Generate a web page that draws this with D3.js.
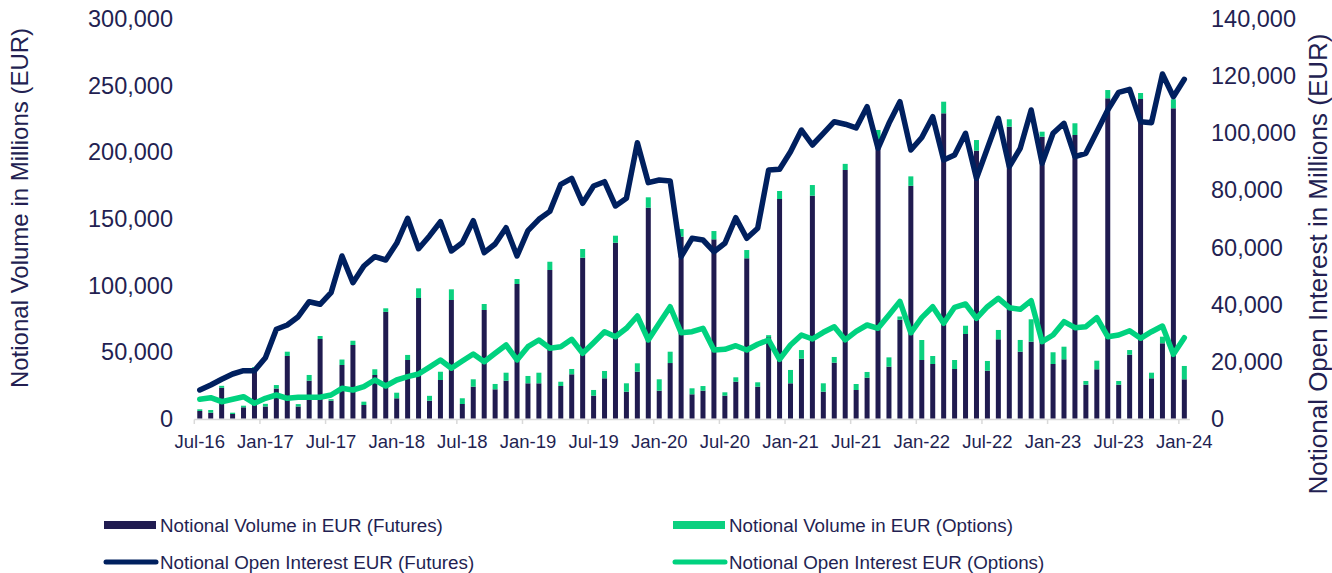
<!DOCTYPE html>
<html>
<head>
<meta charset="utf-8">
<script src="https://cdn.jsdelivr.net/npm/d3@7"></script>
<style>
  html, body { margin: 0; padding: 0; background: #ffffff; }
  svg { display: block; font-family: "Liberation Sans", Arial, sans-serif; }
</style>
</head>
<body>
<svg id="chart" width="1332" height="573"></svg>
<script>
const months = [
  "Jul-16","Aug-16","Sep-16","Oct-16","Nov-16","Dec-16",
  "Jan-17","Feb-17","Mar-17","Apr-17","May-17","Jun-17","Jul-17","Aug-17","Sep-17","Oct-17","Nov-17","Dec-17",
  "Jan-18","Feb-18","Mar-18","Apr-18","May-18","Jun-18","Jul-18","Aug-18","Sep-18","Oct-18","Nov-18","Dec-18",
  "Jan-19","Feb-19","Mar-19","Apr-19","May-19","Jun-19","Jul-19","Aug-19","Sep-19","Oct-19","Nov-19","Dec-19",
  "Jan-20","Feb-20","Mar-20","Apr-20","May-20","Jun-20","Jul-20","Aug-20","Sep-20","Oct-20","Nov-20","Dec-20",
  "Jan-21","Feb-21","Mar-21","Apr-21","May-21","Jun-21","Jul-21","Aug-21","Sep-21","Oct-21","Nov-21","Dec-21",
  "Jan-22","Feb-22","Mar-22","Apr-22","May-22","Jun-22","Jul-22","Aug-22","Sep-22","Oct-22","Nov-22","Dec-22",
  "Jan-23","Feb-23","Mar-23","Apr-23","May-23","Jun-23","Jul-23","Aug-23","Sep-23","Oct-23","Nov-23","Dec-23",
  "Jan-24"
];

const tickLabels = ["Jul-16","Jan-17","Jul-17","Jan-18","Jul-18","Jan-19","Jul-19","Jan-20","Jul-20","Jan-21","Jul-21","Jan-22","Jul-22","Jan-23","Jul-23","Jan-24"];
const leftTicks = [0, 50000, 100000, 150000, 200000, 250000, 300000];
const rightTicks = [0, 20000, 40000, 60000, 80000, 100000, 120000, 140000];

// Notional volume, futures (EUR millions)
const volFutures = [
  5625, 4350, 23000, 3375, 8400, 37500,
  9000, 22500, 46900, 9000, 28350, 59625, 13350, 40125, 55125, 10125, 32625, 80000,
  15150, 43875, 90400, 13350, 28875, 88875, 10875, 23850, 81375, 21900, 28350, 100875,
  26400, 26400, 111375, 24375, 33150, 120600, 17100, 30150, 131850, 20100, 35100, 158100,
  20850, 41600, 136350, 18150, 20850, 134400, 17100, 27600, 120150, 23850, 61000, 164625,
  26400, 44850, 167100, 20100, 41850, 186375, 21375, 30600, 209500, 38850, 74000, 174500,
  43875, 40875, 228900, 37125, 63375, 200850, 35850, 59400, 218850, 50100, 57600, 211350,
  40875, 44400, 212625, 25350, 36900, 240150, 25350, 47850, 239625, 30150, 56400, 232650,
  29400
];

// Notional volume, options (EUR millions)
const volOptions = [
  1275, 2025, 1500, 975, 1200, 1000,
  2000, 2600, 3200, 1800, 4300, 2250, 1150, 4100, 3200, 2500, 4300, 2650,
  4200, 3800, 7250, 3650, 6200, 8000, 4300, 5550, 4500, 4000, 6000, 3750,
  5500, 7950, 6200, 3200, 4000, 6500, 4300, 5500, 5250, 6300, 6300, 7800,
  8550, 8500, 5800, 4500, 3500, 6200, 2550, 3300, 6200, 3300, 1500, 6000,
  10000, 6500, 8000, 6300, 4300, 4600, 4500, 4300, 6900, 7000, 2500, 7100,
  15000, 6000, 8700, 6750, 6200, 8000, 7300, 7000, 5550, 8800, 16800, 3750,
  8800, 9450, 8800, 2800, 6450, 6200, 2800, 3500, 4500, 4200, 4950, 6750,
  10000
];

// Notional open interest, futures (EUR millions)
const oiFutures = [
  9975, 11725, 13720, 15575, 16730, 16730,
  21280, 31220, 32725, 35630, 40880, 39970, 44030, 56875, 47530, 53375, 56630, 55475,
  61320, 70070, 59400, 63900, 68880, 58625, 61530, 69230, 58030, 61075, 66780, 56875,
  65730, 69720, 72500, 81970, 84070, 75320, 81375, 82880, 74375, 77070, 96530, 82530,
  83475, 83125, 56630, 63070, 62475, 58380, 61320, 70280, 63070, 66570, 86975, 87220,
  93380, 100975, 95725, 99820, 103880, 103000, 101700, 109130, 94570, 103320, 110880, 93975,
  98350, 105630, 90475, 92225, 99820, 84070, 94570, 105070, 88130, 94570, 107975, 89320,
  99820, 103320, 91630, 92820, 100380, 107975, 114170, 115220, 103880, 103530, 120575, 112630,
  118720
];

// Notional open interest, options (EUR millions)
const oiOptions = [
  6720, 7280, 5880, 6720, 7630, 5320,
  7070, 8225, 7070, 7420, 7420, 7420, 8225, 10570, 9975, 11130, 13475, 11375,
  13475, 14630, 15575, 18000, 20475, 17570, 20125, 22575, 19880, 22820, 25725, 20500,
  25130, 27475, 24570, 25130, 27720, 22820, 26530, 30380, 28630, 31570, 35875, 27475,
  33320, 39130, 30030, 30380, 31570, 23975, 24220, 25480, 23975, 25970, 27475, 20720,
  25725, 29225, 27825, 30170, 32130, 27500, 30500, 32725, 31570, 36225, 41000, 30000,
  35300, 39130, 33320, 38920, 40075, 35070, 39130, 42070, 38780, 38220, 41230, 26880,
  29225, 33880, 31780, 32130, 35280, 28630, 29225, 30730, 28070, 30380, 32375, 22470,
  28280
];

const seriesNames = [
  "Notional Volume in EUR (Futures)",
  "Notional Volume in EUR (Options)",
  "Notional Open Interest EUR (Futures)",
  "Notional Open Interest EUR (Options)"
];
const leftTitle = "Notional Volume in Millions (EUR)";
const rightTitle = "Notional Open Interest in Millions (EUR)";

const C = {
  barFut: "#201b50",
  barOpt: "#0bd07f",
  lineFut: "#00205f",
  lineOpt: "#00d27f",
  text: "#231f52",
  axis: "#d9d9d9"
};

const svg = d3.select("#chart");

const x = d3.scaleBand().domain(months).range([194.3, 1189.8]).padding(0);
const yL = d3.scaleLinear().domain([0, 300000]).range([418.5, 18.5]);
const yR = d3.scaleLinear().domain([0, 140000]).range([418.5, 18.5]);
const fmt = d3.format(",");
const bw = x.bandwidth();
const barW = 5;
const cx = m => x(m) + bw / 2;

const data = months.map((m, i) => ({
  m, fut: volFutures[i], opt: volOptions[i], oiF: oiFutures[i], oiO: oiOptions[i]
}));

// x axis line + ticks
svg.append("line")
  .attr("x1", x.range()[0]).attr("x2", x.range()[1])
  .attr("y1", 419.5).attr("y2", 419.5)
  .attr("stroke", C.axis).attr("stroke-width", 1.5);

const tickG = svg.append("g");
tickLabels.forEach(t => {
  tickG.append("line")
    .attr("x1", x(t)).attr("x2", x(t))
    .attr("y1", 419.5).attr("y2", 424)
    .attr("stroke", C.axis).attr("stroke-width", 1.5);
  tickG.append("text")
    .attr("x", cx(t)).attr("y", 448)
    .attr("text-anchor", "middle")
    .attr("font-size", "18.5px")
    .attr("fill", C.text)
    .text(t);
});

// left axis labels
svg.append("g").selectAll("text").data(leftTicks).join("text")
  .attr("x", 173).attr("y", d => yL(d) + 8.5)
  .attr("text-anchor", "end")
  .attr("font-size", "23.5px")
  .attr("fill", C.text)
  .text(d => fmt(d));

// right axis labels
svg.append("g").selectAll("text").data(rightTicks).join("text")
  .attr("x", 1211).attr("y", d => yR(d) + 8.5)
  .attr("text-anchor", "start")
  .attr("font-size", "23.5px")
  .attr("fill", C.text)
  .text(d => fmt(d));

// axis titles
svg.append("text")
  .attr("transform", "translate(28,208) rotate(-90)")
  .attr("text-anchor", "middle")
  .attr("font-size", "24px")
  .attr("fill", C.text)
  .text(leftTitle);

svg.append("text")
  .attr("transform", "translate(1327,264) rotate(-90)")
  .attr("text-anchor", "middle")
  .attr("font-size", "26px")
  .attr("fill", C.text)
  .text(rightTitle);

// stacked bars
const barsG = svg.append("g");
barsG.selectAll("rect.fut").data(data).join("rect")
  .attr("class", "fut")
  .attr("x", d => cx(d.m) - barW / 2)
  .attr("width", barW)
  .attr("y", d => yL(d.fut))
  .attr("height", d => yL(0) - yL(d.fut))
  .attr("fill", C.barFut);
barsG.selectAll("rect.opt").data(data).join("rect")
  .attr("class", "opt")
  .attr("x", d => cx(d.m) - barW / 2)
  .attr("width", barW)
  .attr("y", d => yL(d.fut + d.opt))
  .attr("height", d => yL(d.fut) - yL(d.fut + d.opt))
  .attr("fill", C.barOpt);

// lines
const lineF = d3.line().x(d => cx(d.m)).y(d => yR(d.oiF));
const lineO = d3.line().x(d => cx(d.m)).y(d => yR(d.oiO));
svg.append("path").datum(data)
  .attr("d", lineO).attr("fill", "none")
  .attr("stroke", C.lineOpt).attr("stroke-width", 5.5)
  .attr("stroke-linejoin", "round").attr("stroke-linecap", "round");
svg.append("path").datum(data)
  .attr("d", lineF).attr("fill", "none")
  .attr("stroke", C.lineFut).attr("stroke-width", 5.5)
  .attr("stroke-linejoin", "round").attr("stroke-linecap", "round");

// legend
const legend = [
  { name: seriesNames[0], type: "rect", color: C.barFut, x: 104, y: 525 },
  { name: seriesNames[1], type: "rect", color: C.barOpt, x: 673, y: 525 },
  { name: seriesNames[2], type: "line", color: C.lineFut, x: 104, y: 562 },
  { name: seriesNames[3], type: "line", color: C.lineOpt, x: 673, y: 562 }
];
const lg = svg.append("g");
legend.forEach(l => {
  if (l.type === "rect") {
    lg.append("rect").attr("x", l.x).attr("y", l.y - 4).attr("width", 52).attr("height", 8).attr("fill", l.color);
  } else {
    lg.append("line").attr("x1", l.x + 2).attr("x2", l.x + 52).attr("y1", l.y).attr("y2", l.y)
      .attr("stroke", l.color).attr("stroke-width", 5).attr("stroke-linecap", "round");
  }
  lg.append("text").attr("x", l.x + 56).attr("y", l.y + 6.5)
    .attr("font-size", "18.8px").attr("fill", C.text).text(l.name);
});
</script>
</body>
</html>
